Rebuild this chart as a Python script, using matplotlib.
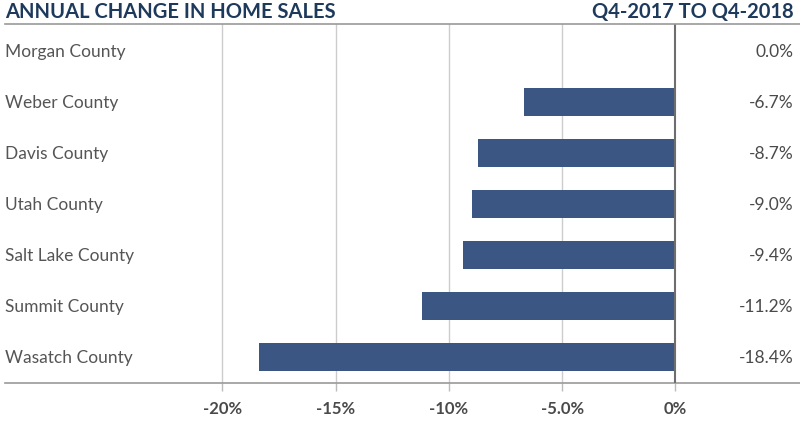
import matplotlib
matplotlib.use("Agg")
import matplotlib.pyplot as plt
import matplotlib.ticker as ptick

# data
counties = ["Morgan County", "Weber County", "Davis County", "Utah County",
            "Salt Lake County", "Summit County", "Wasatch County"]
changes = [0.0, -6.7, -8.7, -9.0, -9.4, -11.2, -18.4]
value_labels = ["0.0%", "-6.7%", "-8.7%", "-9.0%", "-9.4%", "-11.2%", "-18.4%"]
tick_values = [-20, -15, -10, -5, 0]
tick_labels = ["-20%", "-15%", "-10%", "-5.0%", "0%"]

bar_color = "#3b5683"
navy = "#1d3a5c"
gray_text = "#555555"

plt.rcParams['font.family'] = ['Lato', 'DejaVu Sans']

fig = plt.figure(figsize=(8, 4.27), dpi=100)
ax = fig.add_axes([0.00625, 0.1007, 0.99375, 0.8408])

ypos = list(range(len(counties)))
ax.barh(ypos, changes, height=0.55, color=bar_color, zorder=3)

ax.set_xlim(-29.6, 5.5)
ax.set_ylim(6.52, -0.53)

# grid
for t in tick_values[:-1]:
    ax.axvline(t, color="#cccccc", lw=1.0, zorder=1)
ax.axvline(0, color="#6e6e6e", lw=1.5, zorder=4)

ax.set_xticks(tick_values)
ax.xaxis.set_major_formatter(ptick.FixedFormatter(tick_labels))
ax.tick_params(axis='x', length=6, width=1, color="#bbbbbb", pad=6,
               labelsize=12, labelcolor="#4a4a4a")
for lbl in ax.get_xticklabels():
    lbl.set_fontweight("bold")
ax.set_yticks([])

for s in ["left", "right", "top"]:
    ax.spines[s].set_visible(False)
ax.spines["bottom"].set_color("#999999")
ax.spines["bottom"].set_linewidth(1.2)

# category labels on the left, values on the right
for y, name, vl in zip(ypos, counties, value_labels):
    ax.text(0, y, name, transform=ax.get_yaxis_transform(), ha="left",
            va="center", fontsize=12.5, color=gray_text)
    ax.text(0.992, y, vl, transform=ax.get_yaxis_transform(), ha="right",
            va="center", fontsize=12.5, color="#4a4a4a")

# header
fig.add_artist(plt.Line2D([0.00625, 1.0], [1 - 25 / 427, 1 - 25 / 427],
                          color="#999999", lw=1.2))
fig.text(0.00625, 1 - 12 / 427, "ANNUAL CHANGE IN HOME SALES", ha="left",
         va="center", fontsize=14.5, fontweight="bold", color=navy)
fig.text(0.992, 1 - 12 / 427, "Q4-2017 TO Q4-2018", ha="right",
         va="center", fontsize=14.5, fontweight="bold", color=navy)

fig.savefig("out.png", dpi=100)
